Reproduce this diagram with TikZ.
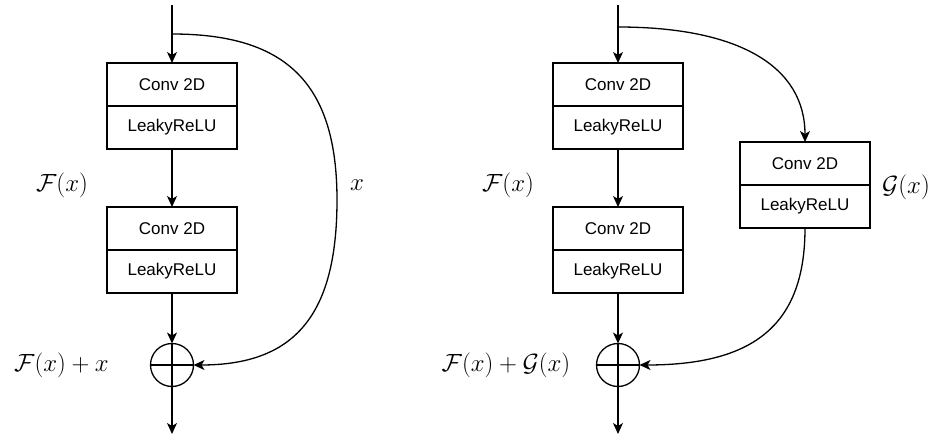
\documentclass[tikz,border=0pt]{standalone}
\usepackage{fontspec}
\newfontfamily\boxfont{Liberation Sans}
\usetikzlibrary{arrows.meta}
\begin{document}
\begin{tikzpicture}[x=1pt,y=-1pt,line width=1.3pt,
  layer/.style={draw,minimum width=130pt,minimum height=43pt,inner sep=0pt,outer sep=0pt,
    font=\boxfont\fontsize{17}{20}\selectfont},
  arr/.style={-{Stealth[length=11pt,width=10pt,inset=3pt]}},
  lbl/.style={font=\fontsize{25}{30}\selectfont,inner sep=0pt},
  plus/.style={draw,circle,minimum size=43pt,inner sep=0pt,outer sep=0pt,
    path picture={\draw (path picture bounding box.west) -- (path picture bounding box.east);}}]
\useasboundingbox (0,0) rectangle (935,436);
% ---------- left ----------
\coordinate (topL) at (172,5);
\coordinate (brL) at (172,34);
\node[layer,anchor=north] (c1L) at (172,63) {Conv 2D};
\node[layer,anchor=north] (r1L) at (c1L.south) {LeakyReLU};
\node[layer,anchor=north] (c2L) at (172,207) {Conv 2D};
\node[layer,anchor=north] (r2L) at (c2L.south) {LeakyReLU};
\node[plus] (pL) at (172,365) {};
\coordinate (botL) at (172,434);
\draw[arr] (topL) -- (c1L.north);
\draw[arr] (r1L.south) -- (c2L.north);
\draw[arr] (r2L.south) -- (pL.north);
\draw[arr] (pL.north) -- (botL);
\draw[arr] (brL) .. controls (287,34) and (337,84) .. (337,200)
  .. controls (337,316) and (294,365) .. (pL.east);
\node[lbl] (fL) at (62,185) {$\mathcal{F}(x)$};
\node[lbl] (xL) at (357,185) {$x$};
\node[lbl] (sL) at (61.5,365) {$\mathcal{F}(x)+x$};
% ---------- right ----------
\coordinate (topR) at (618,5);
\coordinate (brR) at (618,27);
\node[layer,anchor=north] (c1R) at (618,63) {Conv 2D};
\node[layer,anchor=north] (r1R) at (c1R.south) {LeakyReLU};
\node[layer,anchor=north] (c2R) at (618,207) {Conv 2D};
\node[layer,anchor=north] (r2R) at (c2R.south) {LeakyReLU};
\node[layer,anchor=north] (cG) at (805,142) {Conv 2D};
\node[layer,anchor=north] (rG) at (cG.south) {LeakyReLU};
\node[plus] (pR) at (618,365) {};
\coordinate (botR) at (618,434);
\draw[arr] (topR) -- (c1R.north);
\draw[arr] (r1R.south) -- (c2R.north);
\draw[arr] (r2R.south) -- (pR.north);
\draw[arr] (pR.north) -- (botR);
\draw[arr] (brR) .. controls (740,27) and (805,67) .. (cG.north);
\draw[arr] (rG.south) .. controls (805,324) and (755,365) .. (pR.east);
\node[lbl] (fR) at (508,185) {$\mathcal{F}(x)$};
\node[lbl] (gR) at (906,187) {$\mathcal{G}(x)$};
\node[lbl] (sR) at (506,365) {$\mathcal{F}(x)+\mathcal{G}(x)$};
\end{tikzpicture}
\end{document}
